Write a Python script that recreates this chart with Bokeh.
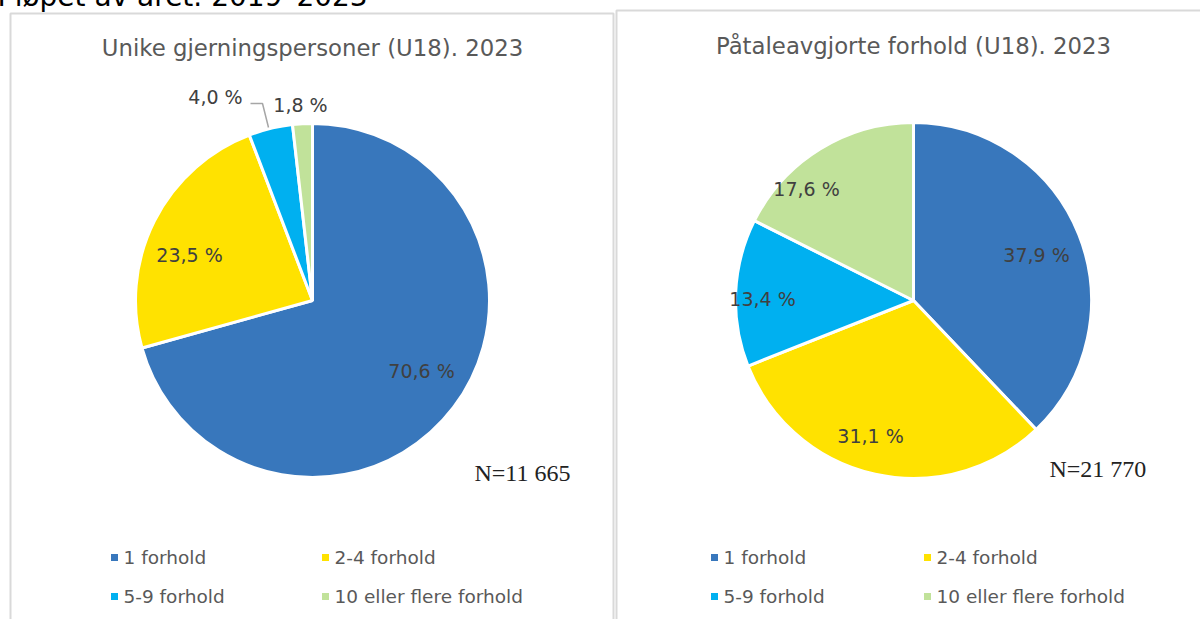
import math
from bokeh.plotting import figure
from bokeh.models import Range1d
from bokeh.core.properties import value
from bokeh.embed import file_html
from bokeh.resources import INLINE

# ---- data ----
categories = ["1 forhold", "2-4 forhold", "5-9 forhold", "10 eller flere forhold"]
colors = ["#3877BC", "#FFE200", "#00B0F0", "#C1E29A"]
left_title = "Unike gjerningspersoner (U18). 2023"
left_values = [70.6, 23.5, 4.0, 1.8]
left_n = "N=11 665"
right_title = "Påtaleavgjorte forhold (U18). 2023"
right_values = [37.9, 31.1, 13.4, 17.6]
right_n = "N=21 770"
page_title = "I løpet av året. 2019–2023"

# label placement (page pixels, annotation styling only)
left_label_pos = [(421, 370), (189, 254), (215, 96), (300, 104)]
right_label_pos = [(1036, 254), (870, 435), (762, 298), (806, 188)]

W, H = 1200, 619
p = figure(width=W + 8, height=H + 8, output_backend="svg", toolbar_location=None,
           x_range=Range1d(-8, W), y_range=Range1d(0, H + 8),
           min_border=0, margin=(-8, 0, -8, -8))
p.axis.visible = False
p.grid.visible = False
p.outline_line_color = None
p.background_fill_color = "white"
p.border_fill_color = "white"

def Y(py):
    return H - py

LABEL_FONT = value("DejaVu Sans")
GRAY = "#595959"
DARK = "#404040"

# cut-off page title at the very top
p.text(x=[-3], y=[Y(-4)], text=[page_title], text_font=value("DejaVu Sans"),
       text_font_size="28px", text_color="#000000", text_baseline="alphabetic",
       text_align="left")

# panel borders
p.line(x=[10, 10, 613, 613], y=[Y(630), Y(13), Y(13), Y(630)], line_color="#D9D9D9", line_width=2)
p.line(x=[616, 616, 1210], y=[Y(630), Y(10), Y(10)], line_color="#D9D9D9", line_width=2)

def pie(cx, cy, r, vals, title, title_y, n_text, n_pos, label_pos):
    total = sum(vals)
    cum = 0.0
    starts, ends = [], []
    for v in vals:
        a0 = math.pi / 2 - 2 * math.pi * cum / total
        cum += v
        a1 = math.pi / 2 - 2 * math.pi * cum / total
        starts.append(a0)
        ends.append(a1)
    p.wedge(x=[cx] * len(vals), y=[Y(cy)] * len(vals), radius=r, radius_units="screen",
            start_angle=starts, end_angle=ends, direction="clock",
            fill_color=colors, line_color="white", line_width=3)
    for i, v in enumerate(vals):
        txt = f"{v:.1f} %".replace(".", ",")
        lx, ly = label_pos[i]
        p.text(x=[lx], y=[Y(ly)], text=[txt], text_font=LABEL_FONT, text_font_size="19px",
               text_color=DARK, text_align="center", text_baseline="middle")
    p.text(x=[cx], y=[Y(title_y)], text=[title], text_font=LABEL_FONT, text_font_size="22.8px",
           text_color=GRAY, text_align="center", text_baseline="middle")
    p.text(x=[n_pos[0]], y=[Y(n_pos[1])], text=[n_text], text_font=value("Liberation Serif"),
           text_font_size="24px", text_color="#222222", text_align="left", text_baseline="middle")

pie(312, 300, 177, left_values, left_title, 47, left_n, (474, 472), left_label_pos)
pie(913, 300, 178, right_values, right_title, 45, right_n, (1049, 468), right_label_pos)

# leader line for 4,0 %
p.line(x=[250, 262, 268], y=[Y(103), Y(103), Y(127)], line_color="#A6A6A6", line_width=1.5)

# legends
def legend(x0, x1, y0, y1):
    pos = [(x0, y0), (x1, y0), (x0, y1), (x1, y1)]
    for (lx, ly), c, name in zip(pos, colors, categories):
        p.scatter(x=[lx], y=[Y(ly)], marker="square", size=7, fill_color=c, line_color=None)
        p.text(x=[lx + 9], y=[Y(ly)], text=[name], text_font=LABEL_FONT, text_font_size="18.5px",
               text_color=GRAY, text_align="left", text_baseline="middle")

legend(114, 325, 557, 596)
legend(714, 927, 557, 596)

open("out.html", "w").write(file_html(p, INLINE))
